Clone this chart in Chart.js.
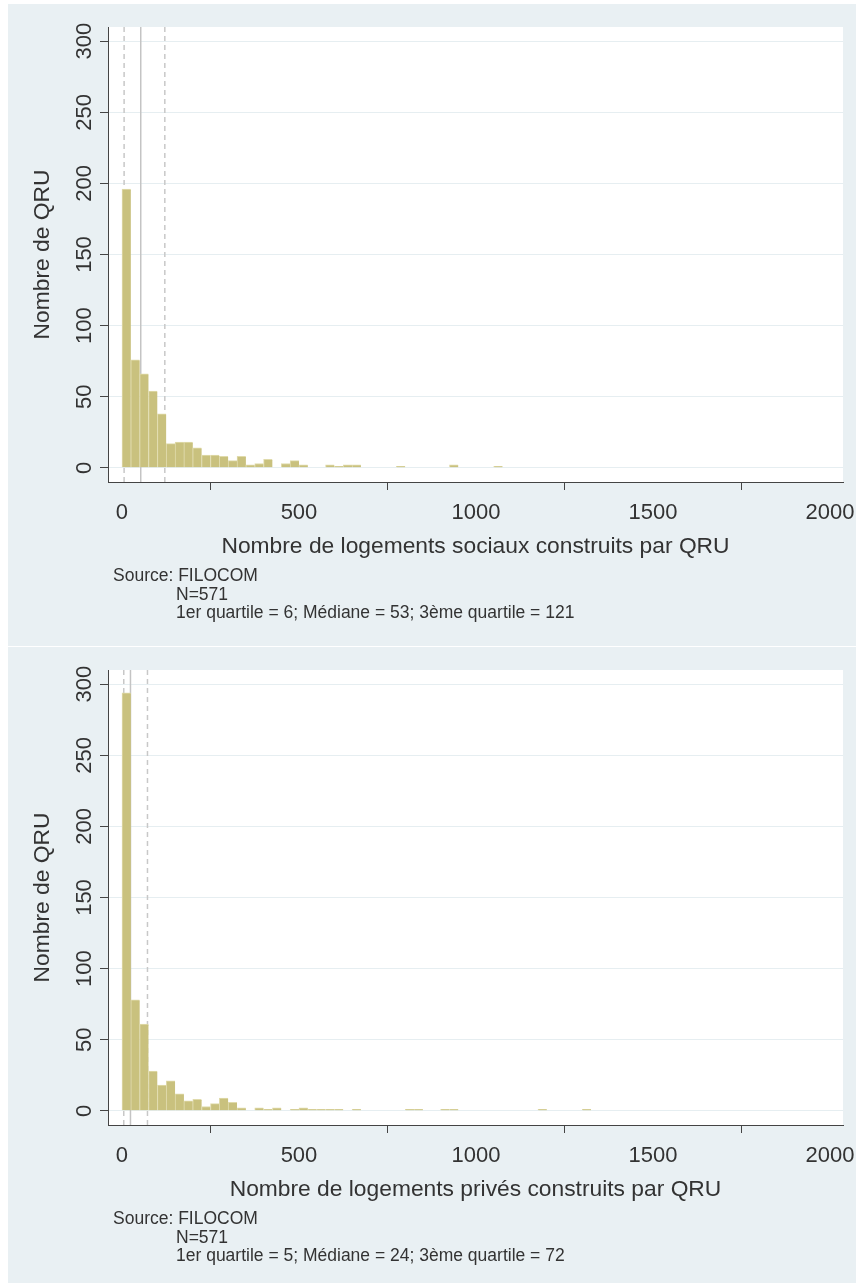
<!DOCTYPE html>
<html>
<head>
<meta charset="utf-8">
<script src="https://cdn.jsdelivr.net/npm/chart.js@4.4.1/dist/chart.umd.min.js"></script>
<style>
  body { margin: 0; background: #fff; width: 858px; height: 1283px; position: relative; overflow: hidden; }
  .panel { position: absolute; left: 8px; width: 848px; background: #e9f0f3; }
  .plot { position: absolute; left: 0; top: 0; width: 848px; height: 564px; }
  .note { position: absolute; left: 105px; top: 562px; font: 17.5px "Liberation Sans", Arial, Helvetica, sans-serif; color: #333; line-height: 18.5px; white-space: nowrap; }
  .note .ind { padding-left: 63px; }
</style>
</head>
<body>
<div class="panel" style="top:4px;height:642px;">
  <div class="plot"><canvas id="social"></canvas></div>
  <div class="note">
    <div>Source: FILOCOM</div>
    <div class="ind">N=571</div>
    <div class="ind">1er quartile = 6; Médiane = 53; 3ème quartile = 121</div>
  </div>
</div>
<div class="panel" style="top:647px;height:636px;">
  <div class="plot"><canvas id="prive"></canvas></div>
  <div class="note">
    <div>Source: FILOCOM</div>
    <div class="ind">N=571</div>
    <div class="ind">1er quartile = 5; Médiane = 24; 3ème quartile = 72</div>
  </div>
</div>
<script>
// largeur des classes de l'histogramme
const binWidth = 25;
const xTicks = [0, 500, 1000, 1500, 2000];
const yTicks = [0, 50, 100, 150, 200, 250, 300];

// nombre de QRU par classe de 25 logements (0-25, 25-50, ...)
const socialCounts = [196, 76, 66, 54, 38, 17, 18, 18, 14, 9, 9, 8, 5, 8, 2, 3, 6, 0, 3, 5,
  2, 0, 0, 2, 1, 2, 2, 0, 0, 0, 0, 1, 0, 0, 0, 0, 0, 2, 0, 0, 0, 0, 1];
const priveCounts = [294, 78, 61, 28, 18, 21, 12, 7, 8, 3, 5, 9, 6, 2, 0, 2, 1, 2, 0, 1,
  2, 1, 1, 1, 1, 0, 1, 0, 0, 0, 0, 0, 1, 1, 0, 0, 1, 1, 0, 0,
  0, 0, 0, 0, 0, 0, 0, 1, 0, 0, 0, 0, 1];

// 1er quartile, médiane, 3ème quartile
const socialQuartiles = [6, 53, 121];
const priveQuartiles = [5, 24, 72];

const FONT = '"Liberation Sans", Arial, Helvetica, sans-serif';
const TEXT = '#333';
const AXIS = '#444';

Chart.defaults.font.family = FONT;
Chart.defaults.color = TEXT;

const plotBg = {
  id: 'plotBg',
  beforeDraw(chart) {
    const { ctx, chartArea: a } = chart;
    ctx.save();
    ctx.fillStyle = '#fff';
    ctx.fillRect(a.left, a.top, a.right - a.left, a.bottom - a.top);
    ctx.restore();
  }
};

// étiquettes de l'axe Y tournées à 90° (style Stata)
const yLabels = {
  id: 'yLabels',
  afterDraw(chart) {
    const { ctx } = chart;
    const y = chart.scales.y;
    ctx.save();
    ctx.font = '22px ' + FONT;
    ctx.fillStyle = TEXT;
    ctx.textAlign = 'center';
    ctx.textBaseline = 'alphabetic';
    y.ticks.forEach(t => {
      ctx.save();
      ctx.translate(83, y.getPixelForValue(t.value));
      ctx.rotate(-Math.PI / 2);
      ctx.fillText(String(t.value), 0, 0);
      ctx.restore();
    });
    ctx.restore();
  }
};

function makeHist(id, counts, quartiles, xTitle) {
  const yMin = -10, yMax = 310;
  // classes vides -> null, pour ne rien dessiner
  const bars = counts.map((c, i) => ({ x: i * binWidth + binWidth / 2, y: c > 0 ? c : null }));

  const lines = quartiles.map((q, i) => ({
    type: 'line',
    data: [{ x: q, y: yMin }, { x: q, y: yMax }],
    borderColor: i === 1 ? '#c4c4c4' : '#c8c8c8',
    borderWidth: 1.5,
    borderDash: i === 1 ? [] : [5, 4],
    pointRadius: 0,
    order: 2
  }));

  new Chart(document.getElementById(id).getContext('2d'), {
    type: 'bar',
    data: {
      datasets: [{
        data: bars,
        backgroundColor: 'rgb(201,193,126)',
        borderColor: 'rgb(224,219,172)',
        borderWidth: { top: 1, left: 1, right: 0, bottom: 0 },
        borderSkipped: false,
        barPercentage: 1,
        categoryPercentage: 1,
        order: 1
      }, ...lines]
    },
    options: {
      responsive: true,
      maintainAspectRatio: false,
      animation: false,
      layout: { padding: { top: 23, right: 13, bottom: 0, left: 0 } },
      plugins: { legend: { display: false }, tooltip: { enabled: false } },
      scales: {
        x: {
          type: 'linear',
          min: -39.5,
          max: 2036.7,
          offset: false,
          afterBuildTicks: s => { s.ticks = xTicks.map(v => ({ value: v })); },
          afterFit: s => { s.height = 86; s.paddingLeft = 0; s.paddingRight = 0; },
          ticks: { font: { size: 22 }, color: TEXT, padding: 10, maxRotation: 0, autoSkip: false, callback: v => String(v) },
          grid: { drawOnChartArea: false, color: AXIS, tickLength: 8 },
          border: { color: AXIS, width: 1 },
          title: { display: true, text: xTitle, font: { size: 22.8 }, color: TEXT, padding: { top: 0, bottom: 8 } }
        },
        y: {
          min: yMin,
          max: yMax,
          afterBuildTicks: s => { s.ticks = yTicks.map(v => ({ value: v })); },
          afterFit: s => { s.width = 100; s.paddingTop = 0; s.paddingBottom = 0; },
          ticks: { display: false },
          grid: { color: '#e6eef1', lineWidth: 1, tickColor: AXIS, tickLength: 8 },
          border: { color: AXIS, width: 1 },
          title: { display: true, text: 'Nombre de QRU', font: { size: 22.8 }, color: TEXT, padding: { top: 21, bottom: 0 } }
        }
      }
    },
    plugins: [plotBg, yLabels]
  });
}

makeHist('social', socialCounts, socialQuartiles, 'Nombre de logements sociaux construits par QRU');
makeHist('prive', priveCounts, priveQuartiles, 'Nombre de logements privés construits par QRU');
</script>
</body>
</html>
